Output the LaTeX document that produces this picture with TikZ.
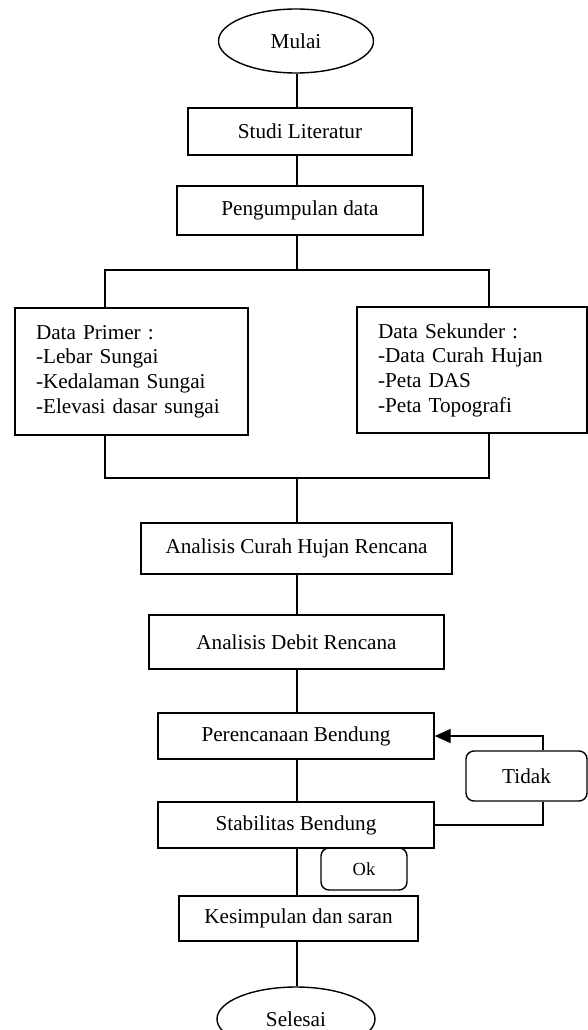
\documentclass[tikz,border=0pt]{standalone}
\usepackage{fontspec}
\setmainfont{Liberation Serif}
\usetikzlibrary{arrows.meta,shapes.geometric}
\newcommand\mainfs{\fontsize{21.2}{24.7}\selectfont}
\newcommand\okfs{\fontsize{18.5}{22}\selectfont}
\begin{document}
\begin{tikzpicture}[x=1pt,y=-1pt,line width=1.4pt,
  box/.style={draw,rectangle,inner sep=0pt,font=\mainfs},
  term/.style={draw,ellipse,inner sep=0pt,font=\mainfs},
  listbox/.style={draw,rectangle,inner xsep=21pt,inner ysep=0pt,align=left,font=\mainfs},
  decision/.style={draw,rectangle,rounded corners=8pt,inner sep=0pt},
  flow/.style={draw},
  back/.style={draw,-{Triangle[length=16pt,width=14pt]}}]
\clip (0,0) rectangle (588,1030);
\fill[white] (0,0) rectangle (588,1030);
% nodes
\node[term,minimum width=155pt,minimum height=64pt] (mulai) at (296,41) {Mulai};
\node[box,minimum width=224pt,minimum height=47pt] (studi) at (300,131.5) {Studi Literatur};
\node[box,minimum width=246pt,minimum height=49pt] (kumpul) at (300,210.5) {Pengumpulan data};
\node[listbox,text width=191pt,minimum height=127pt] (primer) at (131.5,371.5)
  {Data Primer :\\-Lebar Sungai\\-Kedalaman Sungai\\-Elevasi dasar sungai};
\node[listbox,text width=188pt,minimum height=126pt] (sekunder) at (472,370)
  {Data Sekunder :\\-Data Curah Hujan\\-Peta DAS\\-Peta Topografi};
\node[box,minimum width=311pt,minimum height=51pt] (curah) at (296.5,548.5) {Analisis Curah Hujan Rencana};
\node[box,minimum width=295pt,minimum height=54pt] (debit) at (296.5,642) {Analisis Debit Rencana};
\node[box,minimum width=276pt,minimum height=46pt] (rencana) at (296,736) {Perencanaan Bendung};
\node[box,minimum width=276pt,minimum height=46pt] (stabil) at (296,825) {Stabilitas Bendung};
\node[decision,minimum width=121pt,minimum height=50pt,font=\mainfs] (tidak) at (526.5,776) {Tidak};
\node[decision,minimum width=86pt,minimum height=42pt,font=\okfs] (ok) at (364,869) {Ok};
\node[box,minimum width=239pt,minimum height=45pt] (kesimpulan) at (298.5,918.5) {Kesimpulan dan saran};
\node[term,minimum width=158pt,minimum height=64pt] (selesai) at (296,1019) {Selesai};
% helper coordinates
\coordinate (ax) at (297,0);
\coordinate (splitL) at (105,270);
\coordinate (splitR) at (489,270);
\coordinate (joinL) at (105,478);
\coordinate (joinR) at (489,478);
\coordinate (loop) at (543,0);
% connectors
\path[flow] (ax|-mulai.south) -- (ax|-studi.north);
\path[flow] (ax|-studi.south) -- (ax|-kumpul.north);
\path[flow] (ax|-kumpul.south) -- (ax|-splitL);
\path[flow] (splitL|-primer.north) -- (splitL) -- (splitR) -- (splitR|-sekunder.north);
\path[flow] (joinL|-primer.south) -- (joinL) -- (joinR) -- (joinR|-sekunder.south);
\path[flow] (ax|-joinL) -- (ax|-curah.north);
\path[flow] (ax|-curah.south) -- (ax|-debit.north);
\path[flow] (ax|-debit.south) -- (ax|-rencana.north);
\path[flow] (ax|-rencana.south) -- (ax|-stabil.north);
\path[flow] (stabil.east) -- (loop|-stabil.east) -- (loop|-tidak.south);
\path[back] (loop|-tidak.north) -- (loop|-rencana.east) -- (rencana.east);
\path[flow] (ax|-stabil.south) -- (ax|-kesimpulan.north);
\path[flow] (ax|-kesimpulan.south) -- (ax|-selesai.north);
\end{tikzpicture}
\end{document}
